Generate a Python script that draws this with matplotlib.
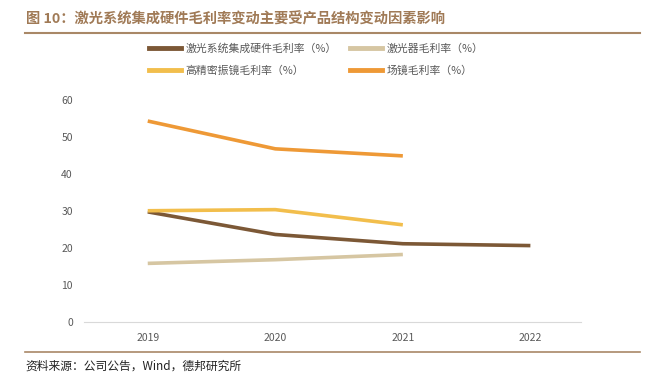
import matplotlib
matplotlib.use('Agg')
import matplotlib.pyplot as plt
from matplotlib.lines import Line2D

plt.rcParams['font.family'] = ['Noto Sans CJK SC', 'DejaVu Sans']

# data
years = ['2019', '2020', '2021', '2022']
system_margin = [29.8, 23.7, 21.2, 20.7]     # 激光系统集成硬件毛利率
laser_margin = [15.9, 16.9, 18.3]            # 激光器毛利率
galvo_margin = [30.1, 30.4, 26.3]            # 高精密振镜毛利率
lens_margin = [54.3, 46.8, 44.9]             # 场镜毛利率

labels = ['激光系统集成硬件毛利率（%）', '激光器毛利率（%）',
          '高精密振镜毛利率（%）', '场镜毛利率（%）']
colors = ['#7C5836', '#D6C6A2', '#F2BE4C', '#EE9936']
series = [system_margin, laser_margin, galvo_margin, lens_margin]

fig = plt.figure(figsize=(6.46, 3.77), dpi=100)
ax = fig.add_axes([0.13, 0.145, 0.77, 0.59])

for vals, c, lab in zip(series, colors, labels):
    ax.plot(range(len(vals)), vals, color=c, lw=2.6, label=lab,
            solid_capstyle='butt')

ax.set_xlim(-0.5, 3.4)
ax.set_ylim(0, 60)
ax.set_yticks(range(0, 61, 10))
ax.set_xticks(range(len(years)))
ax.set_xticklabels(years)
ax.tick_params(length=0, labelsize=7.5, colors='#595959', pad=8)
for s in ['top', 'right', 'left']:
    ax.spines[s].set_visible(False)
ax.spines['bottom'].set_color('#D9D9D9')

# legend fills column by column, so reorder to get rows as in the chart
order = [0, 2, 1, 3]
handles = [Line2D([], [], color=colors[i], lw=3.5) for i in order]
fig.legend(handles, [labels[i] for i in order], loc='upper left',
           bbox_to_anchor=(0.215, 0.91), ncol=2, frameon=False, fontsize=7.8,
           labelcolor='#595959', handlelength=3.0, columnspacing=1.2,
           handletextpad=0.4, labelspacing=1.05)

# title and frame lines
fig.text(0.04, 0.948, '图 10：激光系统集成硬件毛利率变动主要受产品结构变动因素影响',
         fontsize=10.3, color='#A07A56', fontweight='bold', va='center')
fig.add_artist(Line2D([0.038, 0.99], [0.913, 0.913], color='#A98867', lw=1.5))
fig.add_artist(Line2D([0.038, 0.99], [0.066, 0.066], color='#A98867', lw=1.2))
fig.text(0.04, 0.03, '资料来源：公司公告，Wind，德邦研究所', fontsize=8.5,
         color='#222222', va='center')

fig.savefig('out.png', dpi=100)
